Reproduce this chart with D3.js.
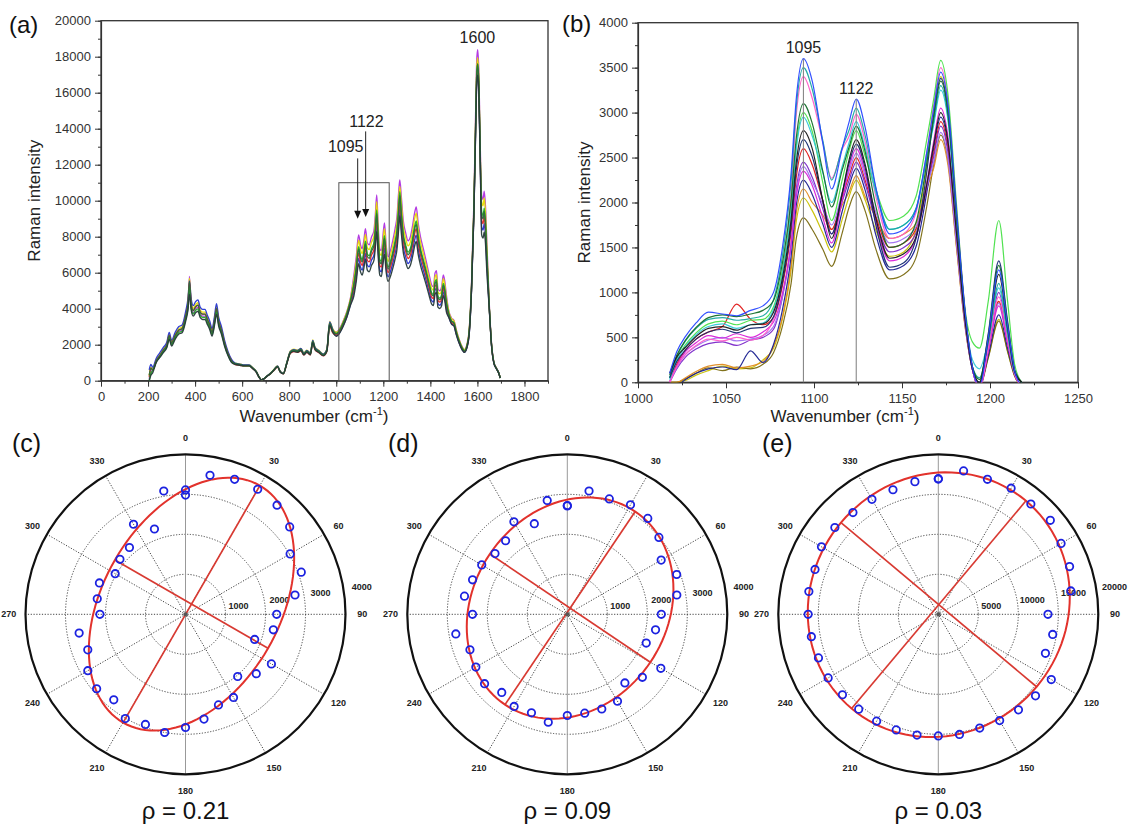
<!DOCTYPE html>
<html><head><meta charset="utf-8">
<script src="https://cdn.jsdelivr.net/npm/d3@7"></script>
<style>
body{margin:0;background:#fff}
svg{display:block}
text{font-family:"Liberation Sans",Arial,sans-serif}
.tick text{font-size:13px;fill:#333}
.tick line{stroke:#333}
.domain{stroke:#333;stroke-width:1.2}
</style>
</head><body>
<svg id="fig" width="1129" height="829"></svg>
<script>
// ---------------- Panel (a) data ----------------
const WN_A = [205,212,220,235,250,265,280,290,300,315,330,345,360,370,376,383,392,402,412,422,432,442,452,462,472,482,491,500,512,525,540,555,570,590,610,630,645,660,672,682,692,705,720,735,750,762,775,790,805,820,835,850,862,875,890,900,910,925,945,960,972,985,1000,1015,1030,1045,1060,1075,1085,1095,1103,1110,1117,1124,1132,1140,1150,1160,1166,1172,1178,1185,1192,1198,1205,1212,1220,1230,1240,1250,1258,1265,1270,1276,1285,1295,1305,1315,1325,1333,1340,1348,1358,1370,1382,1395,1405,1413,1420,1426,1432,1440,1448,1455,1461,1468,1478,1490,1500,1510,1522,1535,1545,1555,1565,1575,1585,1592,1597,1601,1606,1612,1618,1624,1629,1634,1640,1650,1660,1670,1680,1690,1697];
const SPEC_A_PURPLE = [100,500,580,1070,1360,1650,1940,2430,2040,2430,2720,2810,3490,4170,5800,4170,3780,3980,4070,3690,3590,3590,3300,3010,2620,3200,3880,3200,2720,2040,1460,1070,950,900,850,850,700,500,200,50,100,250,400,600,800,500,400,1000,1600,1700,1650,1750,1500,1650,1500,2200,1800,1650,1450,1700,3200,2800,2700,2910,3330,3850,4580,5880,6880,8100,7550,7330,7770,8440,7660,7550,7990,8330,9210,10320,8660,7330,7220,7990,8770,7550,6880,7220,7770,8440,9100,10430,11150,10320,8880,8210,7770,7990,8660,9320,9660,8770,7990,7330,6660,5880,5330,5220,5990,6110,5110,5000,5220,5880,5550,4770,3890,3470,3360,2840,2310,1890,1730,2000,2840,5430,9930,14630,17770,18390,17240,13060,10300,10080,10530,9740,7730,4390,2090,1050,730,470,160];
const SPEC_A_YELLOW = [300,750,620,1130,1440,1750,2060,2580,2160,2580,2880,2990,3710,4430,5700,4430,4020,4220,4330,3910,3810,3810,3500,3190,2780,3400,4120,3400,2880,2160,1550,1130,980,930,880,880,720,520,210,50,100,260,410,620,820,520,410,1030,1650,1750,1700,1800,1550,1700,1550,2270,1850,1700,1490,1750,3300,2880,2680,2880,3300,3810,4530,5670,6630,7810,7280,7060,7490,8130,7380,7280,7700,8030,8880,9950,8350,7060,6960,7700,8450,7280,6630,6960,7490,8130,8770,10060,10800,9950,8560,7920,7490,7700,8350,8990,9310,8450,7700,7060,6420,5670,5140,5030,5780,5890,4920,4820,5030,5670,5350,4600,3850,3430,3330,2810,2290,1870,1720,1980,2810,5300,9690,14280,17340,17950,16830,12750,9940,9720,10150,9400,7450,4280,2040,1020,710,460,150];
const SPEC_A_GREEN = [0,400,570,1050,1330,1620,1900,2380,2000,2380,2660,2760,3420,4090,5250,4090,3710,3900,3990,3610,3520,3520,3230,2950,2570,3140,3800,3140,2660,2000,1430,1050,930,880,830,830,690,490,200,50,100,250,390,590,780,490,390,980,1570,1670,1620,1720,1470,1620,1470,2160,1760,1620,1420,1670,3140,2740,2630,2830,3230,3740,4440,5410,6320,7450,6940,6730,7140,7750,7040,6940,7340,7650,8470,9490,7960,6730,6630,7340,8060,6940,6320,6630,7140,7750,8360,9590,10500,9490,8160,7550,7140,7340,7960,8570,8870,8060,7340,6730,6120,5410,4900,4790,5510,5610,4690,4590,4790,5410,5100,4390,3740,3330,3230,2730,2220,1820,1670,1920,2730,5200,9500,14000,17000,17600,16500,12500,9380,9180,9590,8870,7040,4200,2000,1000,700,450,150];
const SPEC_A_RED = [200,700,600,1100,1400,1700,2000,2500,2100,2500,2800,2900,3600,4300,5450,4300,3900,4100,4200,3800,3700,3700,3400,3100,2700,3300,4000,3300,2800,2100,1500,1100,900,860,810,810,670,480,190,50,100,240,380,570,760,480,380,950,1520,1620,1570,1660,1430,1570,1430,2090,1710,1570,1380,1620,3040,2660,2550,2740,3140,3630,4310,5140,6010,7080,6600,6400,6790,7370,6690,6600,6980,7280,8050,9020,7570,6400,6310,6980,7660,6600,6010,6310,6790,7370,7950,9120,9990,9020,7760,7180,6790,6980,7570,8150,8440,7660,6980,6400,5820,5140,4660,4560,5240,5340,4460,4370,4560,5140,4850,4170,3630,3230,3140,2650,2160,1760,1620,1860,2650,5120,9360,13790,16750,17340,16250,12310,8920,8730,9120,8440,6690,4140,1970,990,690,440,150];
const SPEC_A_BLUE = [600,900,750,1250,1550,1850,2150,2680,2250,2680,3000,3100,3850,4600,5550,4600,4170,4390,4490,4070,3960,3960,3640,3320,2890,3530,4280,3530,3000,2250,1610,1180,970,920,870,870,710,510,200,50,100,260,410,610,820,510,410,1020,1630,1730,1680,1790,1530,1680,1530,2240,1840,1680,1480,1730,3260,2860,2500,2690,3070,3550,4220,4930,5770,6790,6320,6140,6510,7070,6420,6320,6700,6980,7720,8650,7250,6140,6050,6700,7350,6320,5770,6050,6510,7070,7630,8740,9580,8650,7440,6880,6510,6700,7250,7810,8090,7350,6700,6140,5580,4930,4460,4370,5020,5120,4280,4190,4370,4930,4650,4000,3550,3170,3070,2590,2110,1730,1580,1820,2590,5070,9260,13650,16580,17160,16090,12190,8560,8370,8740,8090,6420,4100,1950,980,680,440,150];
const SPEC_A_MID = [300,700,600,1100,1400,1700,2000,2500,2100,2500,2800,2900,3600,4300,5500,4300,3900,4100,4200,3800,3700,3700,3400,3100,2700,3300,4000,3300,2800,2100,1500,1100,950,900,850,850,700,500,200,50,100,250,400,600,800,500,400,1000,1600,1700,1650,1750,1500,1650,1500,2200,1800,1650,1450,1700,3200,2800,2600,2800,3200,3700,4400,5300,6200,7300,6800,6600,7000,7600,6900,6800,7200,7500,8300,9300,7800,6600,6500,7200,7900,6800,6200,6500,7000,7600,8200,9400,10300,9300,8000,7400,7000,7200,7800,8400,8700,7900,7200,6600,6000,5300,4800,4700,5400,5500,4600,4500,4700,5300,5000,4300,3700,3300,3200,2700,2200,1800,1650,1900,2700,5200,9500,14000,17000,17600,16500,12500,9200,9000,9400,8700,6900,4200,2000,1000,700,450,150];
const SPEC_A_DARK = [0,300,450,1010,1290,1560,1840,2300,1930,2300,2580,2670,3310,3960,4800,3960,3590,3770,3860,3500,3400,3400,3130,2850,2480,3040,3680,3040,2580,1930,1380,1010,910,860,820,820,670,480,190,50,100,240,380,580,770,480,380,960,1540,1630,1580,1680,1440,1580,1440,2110,1730,1580,1390,1630,3070,2690,2470,2660,3040,3520,4180,4720,5520,6500,6050,5870,6230,6760,6140,6050,6410,6680,7390,8280,6940,5870,5790,6410,7030,6050,5520,5790,6230,6760,7300,8370,9170,8280,7120,6590,6230,6410,6940,7480,7740,7030,6410,5870,5340,4720,4270,4180,4810,4900,4090,4010,4180,4720,4450,3830,3520,3140,3040,2570,2090,1710,1570,1810,2570,5020,9170,13510,16410,16980,15920,12060,8100,7920,8270,7660,6070,4050,1930,970,680,430,140];
const X_TICKS_A = [0,200,400,600,800,1000,1200,1400,1600,1800];
const Y_TICKS_A = [0,2000,4000,6000,8000,10000,12000,14000,16000,18000,20000];
const ZOOM_BOX = [1011,1225,0,11000];
const ARROWS_A = [{x:1091, top:12350, tip:9000, label:"1095", lx:1040, ly:12720},
                  {x:1125, top:13850, tip:9100, label:"1122", lx:1128, ly:14110}];

// ---------------- Panel (b) data ----------------
const WN_B = [1018,1022,1027,1033,1040,1048,1056,1064,1071,1077,1082,1087,1090,1094,1099,1105,1110,1116,1120,1124,1129,1135,1143,1151,1158,1164,1168,1172,1176,1181,1186,1190,1194,1199,1205,1210,1214,1218];
const SPEC_B_BLUE = [100,340,510,660,780,760,740,800,850,1000,1490,2330,3170,3600,3350,2660,2150,2600,2900,3150,2840,2180,1650,1700,1920,2550,3040,3450,3110,1900,760,170,-50,500,1250,630,130,-50];
const SPEC_B_TEAL = [50,280,460,600,700,720,690,710,740,920,1400,2240,3080,3500,3260,2690,2250,2610,2810,3050,2750,2170,1700,1750,1940,2500,2900,3300,2970,1820,730,170,50,440,1100,550,110,0];
const SPEC_B_PINK = [0,170,310,410,480,460,500,470,520,710,1210,2090,2990,3400,3160,2670,2270,2590,2740,2980,2680,2080,1600,1650,1890,2550,3080,3500,3150,1930,770,180,-80,380,950,480,100,-50];
const SPEC_B_DKGREEN = [80,300,470,610,720,750,730,760,800,910,1320,2030,2730,3100,2880,2350,1950,2360,2620,2850,2570,1970,1500,1550,1780,2430,2950,3350,3020,1840,740,170,30,520,1300,650,130,0];
const SPEC_B_LTGREEN = [50,260,420,550,650,680,640,690,700,840,1240,1940,2640,3000,2790,2220,1800,2250,2580,2800,2520,2150,1800,1850,2070,2690,3150,3580,3220,1970,790,450,380,900,1800,900,200,0];
const SPEC_B_BLACK = [100,280,390,510,600,620,580,640,650,780,1150,1810,2460,2800,2600,2020,1600,2100,2480,2700,2430,1840,1380,1430,1620,2190,2640,3000,2700,1650,660,150,0,480,1200,600,120,0];
const SPEC_B_RED = [0,200,360,480,560,620,870,700,640,720,1070,1680,2290,2600,2420,2020,1700,2060,2300,2500,2250,1850,1500,1550,1710,2200,2550,2900,2610,1600,640,150,-60,360,900,450,90,-50];
const SPEC_B_PURPLE = [0,150,280,370,430,450,410,470,500,590,940,1540,2160,2450,2280,1930,1650,2010,2250,2450,2210,1800,1450,1500,1660,2150,2510,2850,2570,1570,630,140,-30,400,1000,500,100,-50];
const SPEC_B_MAGENTA = [0,180,340,440,520,490,540,500,560,670,980,1530,2070,2350,2190,1830,1550,2020,2390,2600,2340,1790,1350,1400,1610,2200,2680,3050,2750,1680,670,150,-80,340,850,430,90,-50];
const SPEC_B_NAVY = [0,-30,30,100,150,170,140,350,220,420,800,1400,1980,2250,2090,1760,1500,1900,2190,2380,2140,1650,1250,1300,1510,2100,2600,2950,2660,1620,650,150,-50,300,750,380,80,-50];
const SPEC_B_OLIVE = [0,0,20,80,130,180,150,160,250,380,700,1250,1800,2050,1910,1660,1450,1810,2070,2250,2030,1700,1400,1450,1700,2400,2990,3400,3060,1870,750,170,-40,280,700,350,70,-50];
const SPEC_B_DKOLIVE = [0,0,40,100,160,130,170,150,200,330,620,1100,1610,1830,1700,1480,1290,1660,1950,2120,1910,1490,1150,1200,1390,1950,2420,2750,2480,1510,610,140,-60,270,680,340,70,-50];
const SPEC_B_CYAN = [30,240,400,530,620,650,600,640,660,810,1200,1900,2600,2950,2740,2330,2000,2400,2670,2900,2610,2120,1700,1750,1930,2480,2860,3250,2930,1790,720,250,150,470,1050,530,110,0];
const SPEC_B_ORANGE = [0,0,50,120,180,200,160,180,230,400,720,1300,1890,2150,2000,1860,1700,1970,2120,2300,2070,1840,1600,1650,1770,2150,2380,2700,2430,1490,590,140,-50,360,900,450,90,-50];
const SPEC_B_DKBLUE = [50,230,360,480,560,590,550,600,610,730,1100,1740,2380,2700,2510,2020,1650,2100,2440,2650,2390,1760,1280,1330,1600,2330,2970,3380,3040,1860,740,170,0,540,1350,680,140,0];
const SPEC_B_VIOLET = [0,160,310,400,470,500,460,480,520,620,950,1530,2110,2400,2230,1980,1750,2110,2350,2550,2300,1900,1550,1600,1730,2170,2450,2780,2500,1530,610,140,-40,350,880,440,90,-50];
const X_TICKS_B = [1000,1050,1100,1150,1200,1250];
const Y_TICKS_B = [0,500,1000,1500,2000,2500,3000,3500,4000];
const PEAK_LINES_B = [{x:1094, top:3600, label:"1095", ly:3660}, {x:1124, top:3150, label:"1122", ly:3210}];

// ---------------- Polar data (c)-(e) ----------------
const ANGLES = [0,10,20,30,40,50,60,70,80,90,100,110,120,130,140,150,160,170,180,190,200,210,220,230,240,250,260,270,280,290,300,310,320,330,340,350,360];
const R_C = [3110,3530,3590,3610,3560,3400,3020,3080,2780,2280,2230,1840,2480,2310,2030,2400,2410,2660,2830,3000,2930,3010,2790,2900,2820,2600,2700,2140,2240,2290,2030,2140,2180,2600,2270,3130,2980];
const R_D = [2710,3130,3070,3160,3130,2990,2710,2910,2780,2350,2240,2100,2700,2450,2240,2510,2520,2510,2530,2740,2620,2660,2550,2700,2640,2590,2830,2370,2610,2520,2470,2360,2400,2670,2410,2890,2720];
const R_E = [16900,18200,17960,18200,18000,18280,17720,17460,16820,13710,14520,14250,16310,15860,15590,15340,15130,15250,15200,15330,15380,15420,15480,15640,15900,15940,16110,16270,16430,16400,16860,16880,16600,16590,16570,16840,16950];
const FIT_C = {a:3420, b:2210, phi:30, cx:150, cy:255};
const FIT_D = {a:2911, b:2420, phi:34, cx:70, cy:155};
const FIT_E = {a:16950, b:15960, phi:40, cx:60, cy:1200};
const RTICKS_CD = [1000,2000,3000,4000];
const RTICKS_E = [5000,10000,15000,20000];
const ANGLE_LABELS = [0,30,60,90,120,150,180,210,240,270,300,330];
const RHO = ["ρ = 0.21","ρ = 0.09","ρ = 0.03"];

// ====================================================
const svg = d3.select("#fig");
const defs = svg.append("defs");
const fmt = d3.format("d");

function spectrumPanel(o){
  const x = d3.scaleLinear().domain(o.xd).range(o.xr);
  const y = d3.scaleLinear().domain(o.yd).range(o.yr);
  const id = "clip"+o.key;
  defs.append("clipPath").attr("id",id).append("rect")
    .attr("x",o.xr[0]).attr("y",o.yr[1]).attr("width",o.xr[1]-o.xr[0]).attr("height",o.yr[0]-o.yr[1]);
  const g = svg.append("g");
  g.append("g").attr("transform",`translate(0,${o.yr[0]})`)
    .call(d3.axisBottom(x).tickValues(d3.range(o.xd[0],o.xd[1]+1e-9,o.xMinor)).tickSize(3).tickFormat(""))
    .call(s=>s.select(".domain").remove());
  g.append("g").attr("transform",`translate(${o.xr[0]},0)`)
    .call(d3.axisLeft(y).tickValues(d3.range(o.yd[0],o.yd[1]+1e-9,o.yMinor)).tickSize(3).tickFormat(""))
    .call(s=>s.select(".domain").remove());
  g.append("g").attr("transform",`translate(0,${o.yr[0]})`)
    .call(d3.axisBottom(x).tickValues(o.xTicks).tickFormat(fmt).tickSize(6).tickPadding(5).tickSizeOuter(0));
  g.append("g").attr("transform",`translate(${o.xr[0]},0)`)
    .call(d3.axisLeft(y).tickValues(o.yTicks).tickFormat(fmt).tickSize(6).tickPadding(4).tickSizeOuter(0));
  g.append("rect").attr("x",o.xr[0]).attr("y",o.yr[1]).attr("width",o.xr[1]-o.xr[0]).attr("height",o.yr[0]-o.yr[1])
    .attr("fill","none").attr("stroke","#333").attr("stroke-width",1.3);
  const lines = g.append("g").attr("clip-path",`url(#${id})`);
  const gen = d3.line().x((d,i)=>x(o.wn[i])).y(d=>y(d)).curve(d3.curveMonotoneX);
  o.series.forEach(s=>{
    lines.append("path").datum(s.v).attr("d",gen).attr("fill","none")
      .attr("stroke",s.c).attr("stroke-width",o.sw).attr("stroke-opacity",0.95);
  });
  g.append("text").attr("transform",`translate(${o.ytX},${(o.yr[0]+o.yr[1])/2}) rotate(-90)`)
    .attr("text-anchor","middle").attr("font-size",17).attr("fill","#222").text("Raman intensity");
  const xt = g.append("text").attr("x",o.xtX).attr("y",o.xtY)
    .attr("text-anchor","middle").attr("font-size",17).attr("fill","#222");
  xt.append("tspan").text("Wavenumber (cm");
  xt.append("tspan").attr("font-size",11).attr("dy",-7).text("-1");
  xt.append("tspan").attr("dy",7).text(")");
  svg.append("text").attr("x",o.tagX).attr("y",o.tagY).attr("font-size",24).attr("fill","#111").text(o.tag);
  return {g,x,y};
}

// ---- Panel (a)
const A = spectrumPanel({key:"a", xd:[0,1900], xr:[101,548], yd:[0,20000], yr:[380.7,20.7],
  xTicks:X_TICKS_A, yTicks:Y_TICKS_A, xMinor:100, yMinor:1000, wn:WN_A, sw:1.35,
  series:[{v:SPEC_A_PURPLE,c:"#b030e0"},{v:SPEC_A_YELLOW,c:"#e6dc00"},{v:SPEC_A_BLUE,c:"#2535d0"},
          {v:SPEC_A_RED,c:"#e02828"},{v:SPEC_A_GREEN,c:"#22b022"},{v:SPEC_A_MID,c:"#2d6b3c"},{v:SPEC_A_DARK,c:"#263a3a"}],
  ytX:40, xtX:314, xtY:422, tag:"(a)", tagX:9, tagY:33});
A.g.append("rect").attr("x",A.x(ZOOM_BOX[0])).attr("y",A.y(ZOOM_BOX[3]))
  .attr("width",A.x(ZOOM_BOX[1])-A.x(ZOOM_BOX[0])).attr("height",A.y(ZOOM_BOX[2])-A.y(ZOOM_BOX[3]))
  .attr("fill","none").attr("stroke","#555").attr("stroke-width",1);
ARROWS_A.forEach(a=>{
  const px=A.x(a.x), t=A.y(a.tip);
  A.g.append("line").attr("x1",px).attr("x2",px).attr("y1",A.y(a.top)).attr("y2",t-6).attr("stroke","#222").attr("stroke-width",1);
  A.g.append("path").attr("d",`M${px-3.5},${t-8}L${px+3.5},${t-8}L${px},${t}Z`).attr("fill","#111");
  A.g.append("text").attr("x",A.x(a.lx)).attr("y",A.y(a.ly)).attr("text-anchor","middle").attr("font-size",16).attr("fill","#222").text(a.label);
});
A.g.append("text").attr("x",A.x(1600)).attr("y",A.y(18740)).attr("text-anchor","middle").attr("font-size",16).attr("fill","#222").text("1600");

// ---- Panel (b)
const B = spectrumPanel({key:"b", xd:[1000,1250], xr:[638,1078], yd:[0,4000], yr:[382.3,22.7],
  xTicks:X_TICKS_B, yTicks:Y_TICKS_B, xMinor:25, yMinor:250, wn:WN_B, sw:1.2,
  series:[{v:SPEC_B_OLIVE,c:"#c8c000"},{v:SPEC_B_DKOLIVE,c:"#7a6a10"},{v:SPEC_B_ORANGE,c:"#e08a20"},
          {v:SPEC_B_NAVY,c:"#1a2090"},{v:SPEC_B_RED,c:"#e01818"},{v:SPEC_B_PURPLE,c:"#7a28c8"},
          {v:SPEC_B_VIOLET,c:"#a070f0"},{v:SPEC_B_MAGENTA,c:"#d820d8"},{v:SPEC_B_PINK,c:"#ff5cc8"},
          {v:SPEC_B_LTGREEN,c:"#48e048"},{v:SPEC_B_CYAN,c:"#30c8d8"},{v:SPEC_B_TEAL,c:"#18a8a0"},
          {v:SPEC_B_DKBLUE,c:"#142a70"},{v:SPEC_B_DKGREEN,c:"#146e2a"},{v:SPEC_B_BLACK,c:"#1a1a1a"},
          {v:SPEC_B_BLUE,c:"#2848ff"}],
  ytX:590, xtX:845, xtY:422, tag:"(b)", tagX:562, tagY:32});
PEAK_LINES_B.forEach(p=>{
  B.g.append("line").attr("x1",B.x(p.x)).attr("x2",B.x(p.x)).attr("y1",B.y(0)).attr("y2",B.y(p.top))
    .attr("stroke","#888").attr("stroke-width",1.1);
  B.g.append("text").attr("x",B.x(p.x)).attr("y",B.y(p.ly)).attr("text-anchor","middle").attr("font-size",16).attr("fill","#222").text(p.label);
});

// ---- Polar panels
function polar(o){
  const R = 160;
  const g = svg.append("g").attr("transform",`translate(${o.cx},${o.cy})`);
  const r = d3.scaleLinear().domain([0,o.rMax]).range([0,R]);
  const rad = Math.PI/180;
  const P = (deg,v)=>[r(v)*Math.sin(deg*rad), -r(v)*Math.cos(deg*rad)];
  o.rTicks.slice(0,-1).forEach(t=>g.append("circle").attr("r",r(t)).attr("fill","none")
    .attr("stroke","#444").attr("stroke-width",1).attr("stroke-dasharray","1.2,1.6"));
  [0,30,60,90,120,150].forEach(a=>{
    const p1=P(a,o.rMax), p2=P(a+180,o.rMax);
    g.append("line").attr("x1",p1[0]).attr("y1",p1[1]).attr("x2",p2[0]).attr("y2",p2[1])
      .attr("stroke", a===0?"#999":"#444").attr("stroke-width",1)
      .attr("stroke-dasharray", a===0?null:"1.2,1.6");
  });
  g.append("circle").attr("r",R).attr("fill","none").attr("stroke","#111").attr("stroke-width",2.2);
  ANGLE_LABELS.forEach(a=>{
    const p=P(a,o.rMax*1.105);
    g.append("text").attr("x",p[0]).attr("y",p[1]).attr("dy","0.35em").attr("text-anchor","middle")
      .attr("font-size",9).attr("font-weight","bold").attr("fill","#222").text(a);
  });
  o.rTicks.forEach(t=>{
    const rr=r(t)*1.04+12;
    g.append("text").attr("x",rr*Math.sin(81*rad)).attr("y",-rr*Math.cos(81*rad)).attr("dy","0.35em")
      .attr("text-anchor","middle").attr("font-size",9).attr("font-weight","bold").attr("fill","#222").text(t);
  });
  const f=o.fit, s=Math.sin(f.phi*rad), c=Math.cos(f.phi*rad);
  const E = d3.range(0,360,3).map(t=>{
    const ct=Math.cos(t*rad), st=Math.sin(t*rad);
    const X=f.cx + f.a*ct*s + f.b*st*c, Y=f.cy + f.a*ct*c - f.b*st*s;
    return [r(X), -r(Y)];
  });
  g.append("path").attr("d",d3.line().curve(d3.curveLinearClosed)(E)).attr("fill","none")
    .attr("stroke","#e2322c").attr("stroke-width",2);
  const C=[r(f.cx),-r(f.cy)];
  const ax=[[f.a*s,f.a*c],[f.b*c,-f.b*s]];
  ax.forEach(v=>{
    g.append("line").attr("x1",C[0]-r(v[0])).attr("y1",C[1]+r(v[1])).attr("x2",C[0]+r(v[0])).attr("y2",C[1]-r(v[1]))
      .attr("stroke","#d83a32").attr("stroke-width",1.7);
  });
  g.append("circle").attr("r",2).attr("fill","#555");
  g.selectAll("circle.pt").data(o.vals).join("circle").attr("class","pt")
    .attr("cx",(d,i)=>P(ANGLES[i],d)[0]).attr("cy",(d,i)=>P(ANGLES[i],d)[1])
    .attr("r",3.7).attr("fill","none").attr("stroke","#1c22e0").attr("stroke-width",1.8);
  svg.append("text").attr("x",o.tagX).attr("y",452).attr("font-size",25).attr("fill","#111").text(o.tag);
  svg.append("text").attr("x",o.cx).attr("y",819).attr("text-anchor","middle")
    .attr("font-family","'Open Sans',sans-serif").attr("font-size",24).attr("fill","#111").text(o.rho);
}
polar({cx:185.5, cy:614.3, rMax:4000, rTicks:RTICKS_CD, vals:R_C, fit:FIT_C, tag:"(c)", tagX:12, rho:RHO[0]});
polar({cx:567.3, cy:614.3, rMax:4000, rTicks:RTICKS_CD, vals:R_D, fit:FIT_D, tag:"(d)", tagX:388, rho:RHO[1]});
polar({cx:938.3, cy:614.3, rMax:20000, rTicks:RTICKS_E, vals:R_E, fit:FIT_E, tag:"(e)", tagX:762, rho:RHO[2]});
</script>
</body></html>
